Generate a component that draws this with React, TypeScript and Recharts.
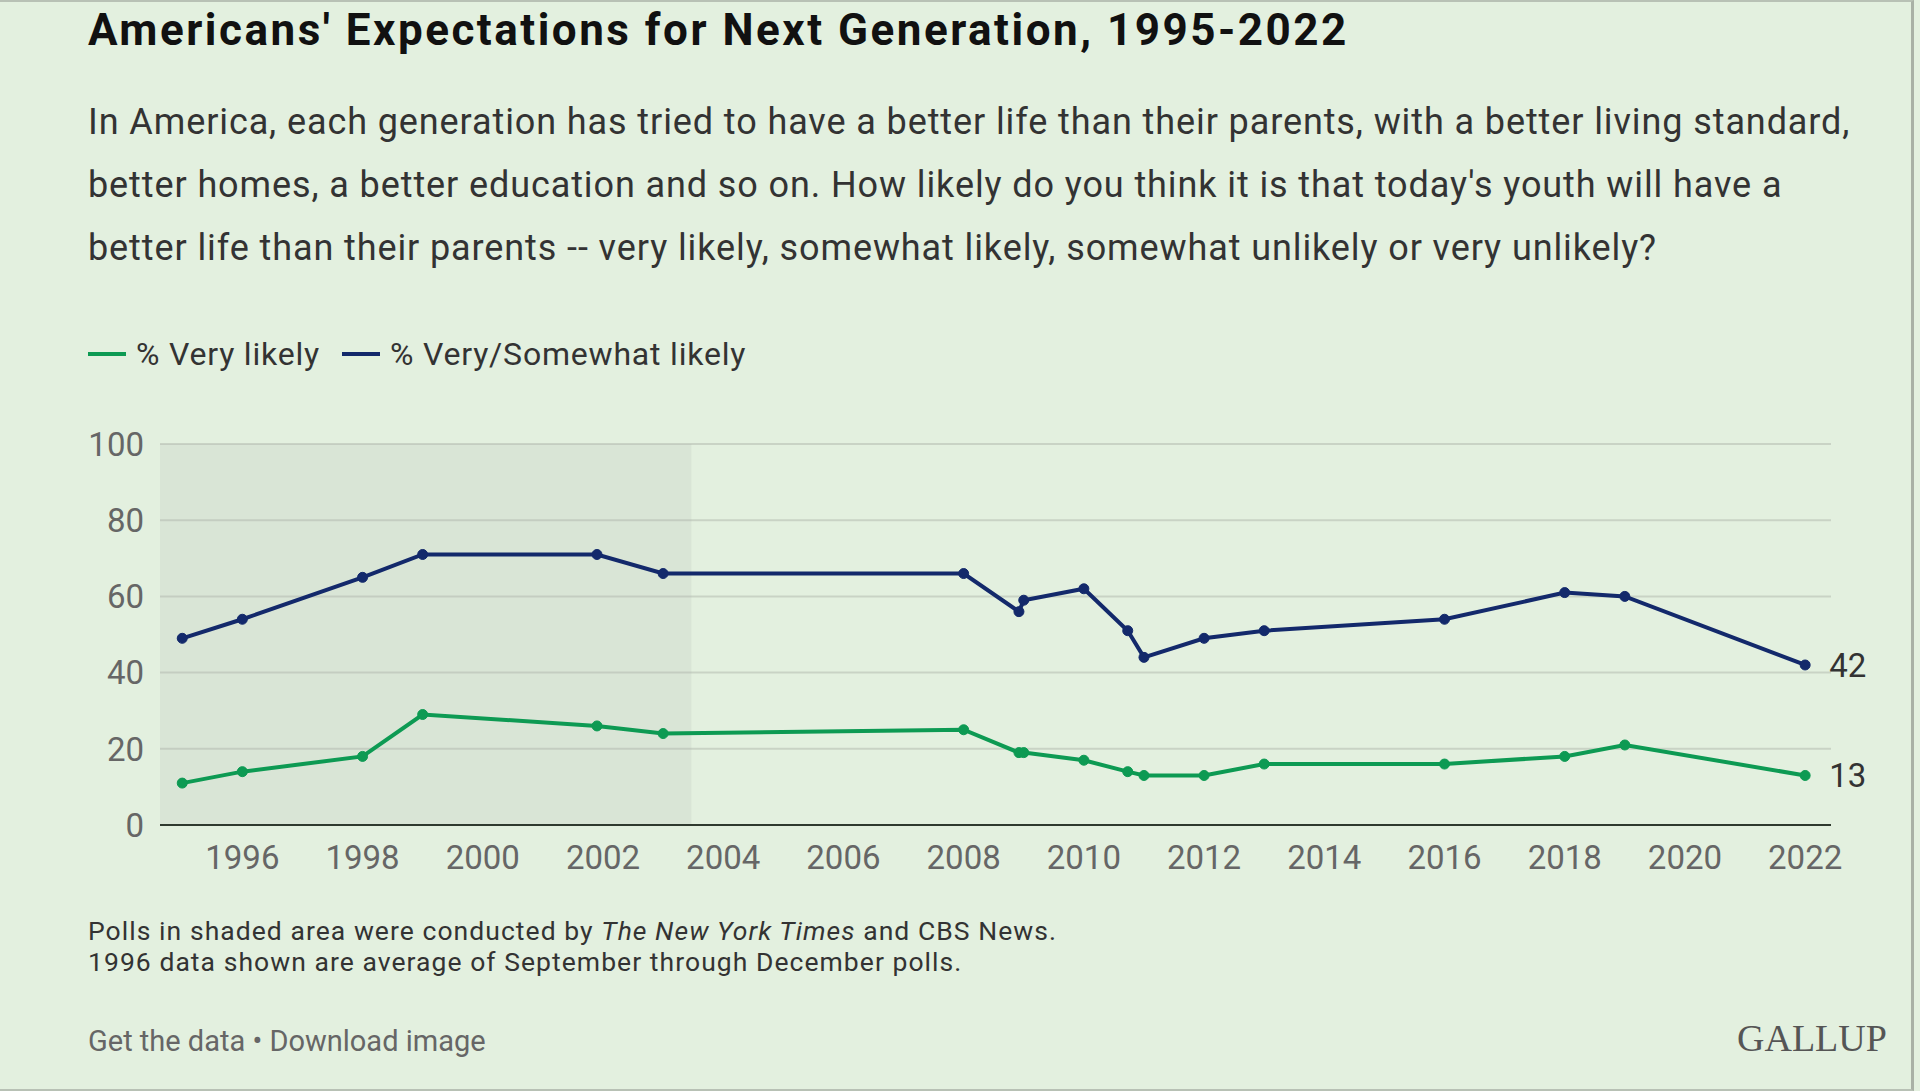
import React from 'react';
import { LineChart, Line, XAxis, YAxis, CartesianGrid, ReferenceArea } from 'recharts';

// poll dates as decimal years
const pollYears = [1995, 1996, 1998, 1999, 2001.9, 2003, 2008, 2008.92, 2009, 2010, 2010.73, 2011, 2012, 2013, 2016, 2018, 2019, 2022];
const veryLikely = [11, 14, 18, 29, 26, 24, 25, 19, 19, 17, 14, 13, 13, 16, 16, 18, 21, 13];
const verySomewhatLikely = [49, 54, 65, 71, 71, 66, 66, 56, 59, 62, 51, 44, 49, 51, 54, 61, 60, 42];

const yearTicks = [1996, 1998, 2000, 2002, 2004, 2006, 2008, 2010, 2012, 2014, 2016, 2018, 2020, 2022];
const valueTicks = [0, 20, 40, 60, 80, 100];
const xDomain: [number, number] = [1994.63, 2022.43];
const shadedUntil = 2003.47;

const GREEN = '#0d9a53';
const NAVY = '#13296b';
const BG = '#e3f0df';
const FONT = 'Roboto, "Liberation Sans", sans-serif';

const data = pollYears.map((year, i) => ({
  year,
  very: veryLikely[i],
  verySomewhat: verySomewhatLikely[i],
}));

const lastIndex = data.length - 1;

const endLabel = (props: any) => {
  const { x, y, index, value } = props;
  if (index !== lastIndex) return null;
  return (
    <text x={x + 24} y={y} dy="0.36em" fontSize={33} fill="#333" fontFamily={FONT}>
      {value}
    </text>
  );
};

const LegendItem = ({ color, label }: { color: string; label: string }) => (
  <div style={{ display: 'flex', alignItems: 'center', marginRight: 22 }}>
    <div style={{ width: 38, height: 4, background: color, marginRight: 10 }} />
    <span>{label}</span>
  </div>
);

export default function App() {
  return (
    <div style={{ position: 'absolute', left: 0, top: 0, width: 1920, height: 1091, background: BG, fontFamily: FONT, overflow: 'hidden' }}>
      <div style={{ position: 'absolute', left: 0, top: 0, width: 1911, height: 1087, borderTop: '2px solid #b8c1b5', borderRight: '3px solid #a9b1a6', borderBottom: '2px solid #b8c1b5' }} />

      <div style={{ position: 'absolute', left: 88, top: 4, fontSize: 44, fontWeight: 700, letterSpacing: 2.5, color: '#111', whiteSpace: 'nowrap' }}>
        Americans' Expectations for Next Generation, 1995-2022
      </div>

      <div style={{ position: 'absolute', left: 88, top: 91, fontSize: 36, letterSpacing: 0.9, lineHeight: '63px', color: '#333', whiteSpace: 'nowrap' }}>
        <div>In America, each generation has tried to have a better life than their parents, with a better living standard,</div>
        <div>better homes, a better education and so on. How likely do you think it is that today's youth will have a</div>
        <div>better life than their parents -- very likely, somewhat likely, somewhat unlikely or very unlikely?</div>
      </div>

      <div style={{ position: 'absolute', left: 88, top: 335, display: 'flex', fontSize: 32, letterSpacing: 0.8, color: '#333', whiteSpace: 'nowrap' }}>
        <LegendItem color={GREEN} label="% Very likely" />
        <LegendItem color={NAVY} label="% Very/Somewhat likely" />
      </div>

      <div style={{ position: 'absolute', left: 0, top: 0 }}>
        <LineChart width={1920} height={1091} data={data} margin={{ top: 444, right: 89, bottom: 206, left: 0 }}>
          <ReferenceArea x1={xDomain[0]} x2={shadedUntil} y1={0} y2={100} fill="#b5b8b4" fillOpacity={0.2} stroke="none" />
          <CartesianGrid vertical={false} stroke="#c9d3c5" strokeWidth={2} />
          <XAxis
            dataKey="year"
            type="number"
            domain={xDomain}
            ticks={yearTicks}
            height={60}
            tickLine={false}
            axisLine={{ stroke: '#2f3a2f', strokeWidth: 2 }}
            tick={{ fontSize: 33, fill: '#666', fontFamily: FONT }}
            tickMargin={15}
            allowDataOverflow
          />
          <YAxis
            type="number"
            domain={[0, 100]}
            ticks={valueTicks}
            width={160}
            tickLine={false}
            axisLine={false}
            tick={{ fontSize: 33, fill: '#666', fontFamily: FONT }}
            tickMargin={10}
          />
          <Line
            dataKey="verySomewhat"
            stroke={NAVY}
            strokeWidth={4}
            dot={{ r: 5, fill: NAVY, stroke: NAVY, strokeWidth: 1 }}
            isAnimationActive={false}
            label={endLabel}
          />
          <Line
            dataKey="very"
            stroke={GREEN}
            strokeWidth={4}
            dot={{ r: 5, fill: GREEN, stroke: GREEN, strokeWidth: 1 }}
            isAnimationActive={false}
            label={endLabel}
          />
        </LineChart>
      </div>

      <div style={{ position: 'absolute', left: 88, top: 915, fontSize: 26.5, letterSpacing: 1.05, lineHeight: '31px', color: '#333', whiteSpace: 'nowrap' }}>
        <div>Polls in shaded area were conducted by <i>The New York Times</i> and CBS News.</div>
        <div>1996 data shown are average of September through December polls.</div>
      </div>

      <div style={{ position: 'absolute', left: 88, top: 1024, fontSize: 29, color: '#666', whiteSpace: 'nowrap' }}>
        Get the data • Download image
      </div>

      <div style={{ position: 'absolute', left: 1737, top: 1016, fontSize: 38, fontFamily: '"Liberation Serif", "DejaVu Serif", serif', color: '#555', whiteSpace: 'nowrap' }}>
        GALLUP
      </div>
    </div>
  );
}
